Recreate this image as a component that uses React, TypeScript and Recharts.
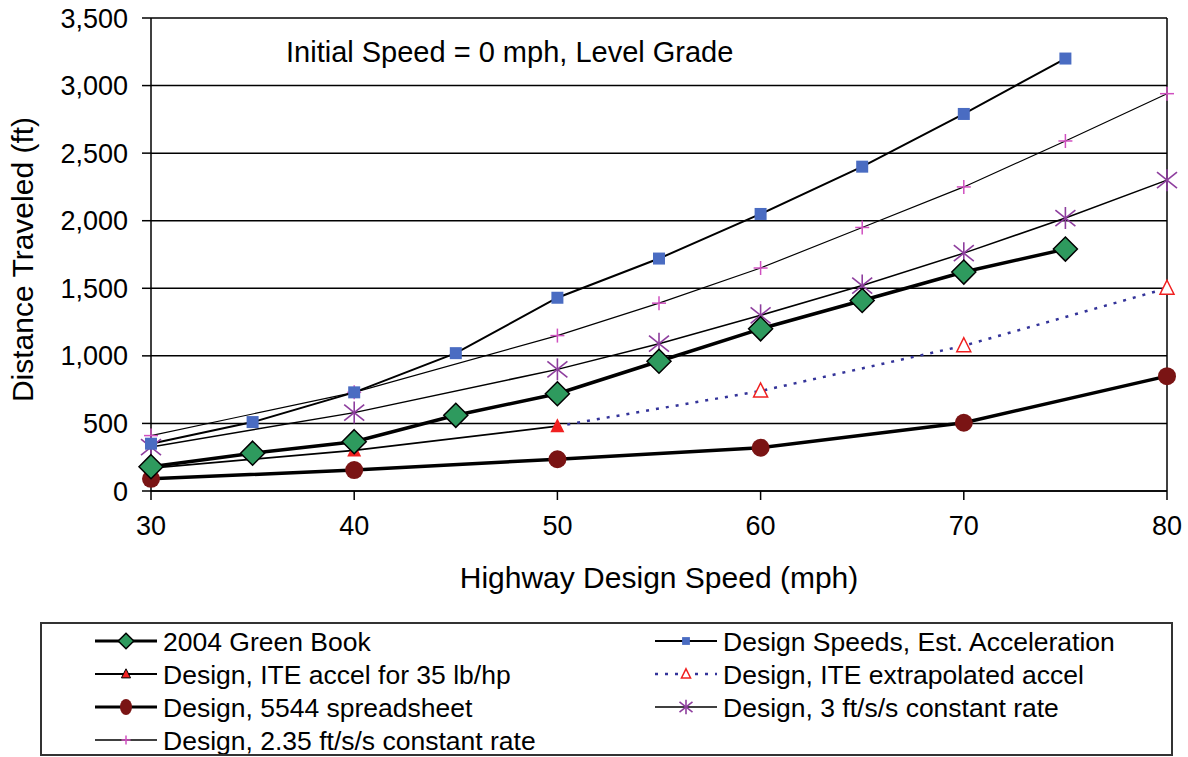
import React from "react";
import {
  LineChart,
  Line,
  XAxis,
  YAxis,
  CartesianGrid,
  ReferenceLine,
  Customized,
} from "recharts";

// Speeds (mph) on the horizontal axis
const speeds = [30, 35, 40, 45, 50, 55, 60, 65, 70, 75, 80];

// Distance traveled (ft) for each method; null where a method has no value
const greenBook = [180, 280, 365, 560, 720, 960, 1200, 1410, 1620, 1790, null];
const estAccel = [350, 510, 730, 1020, 1430, 1720, 2050, 2400, 2790, 3200, null];
const ite35 = [170, null, 300, null, 480, null, null, null, null, null, null];
const iteExtrap = [null, null, null, null, 480, null, 740, null, 1075, null, 1500];
const sheet5544 = [90, null, 155, null, 235, null, 320, null, 505, null, 850];
const rate3 = [325, null, 580, null, 900, 1090, 1300, 1520, 1760, 2020, 2300];
const rate235 = [410, null, 730, null, 1150, 1390, 1650, 1950, 2250, 2590, 2940];

const yTicks = [0, 500, 1000, 1500, 2000, 2500, 3000, 3500];
const xTicks = [30, 40, 50, 60, 70, 80];

const data = speeds.map((s, i) => ({
  speed: s,
  greenBook: greenBook[i],
  estAccel: estAccel[i],
  ite35: ite35[i],
  iteExtrap: iteExtrap[i],
  sheet5544: sheet5544[i],
  rate3: rate3[i],
  rate235: rate235[i],
}));

const FONT = "'Liberation Sans', Arial, sans-serif";

const COLORS = {
  green: "#2E9A5E",
  blue: "#4A6CC2",
  red: "#F02020",
  maroon: "#7A1414",
  purple: "#8E3E9E",
  pink: "#D050C0",
  navy: "#333399",
};

type Shape = (cx: number, cy: number, k?: number) => React.ReactNode;

const diamond: Shape = (cx, cy, k = 1) => {
  const r = 12 * k;
  return (
    <path
      d={`M${cx},${cy - r} L${cx + r},${cy} L${cx},${cy + r} L${cx - r},${cy} Z`}
      fill={COLORS.green}
      stroke="#000"
      strokeWidth={1.5}
    />
  );
};
const square: Shape = (cx, cy, k = 1) => {
  const h = 6 * k;
  return <rect x={cx - h} y={cy - h} width={2 * h} height={2 * h} fill={COLORS.blue} />;
};
const triFilled: Shape = (cx, cy, k = 1) => (
  <path
    d={`M${cx},${cy - 8 * k} L${cx + 7 * k},${cy + 6 * k} L${cx - 7 * k},${cy + 6 * k} Z`}
    fill={COLORS.red}
    stroke={k < 1 ? "#000" : "none"}
    strokeWidth={1}
  />
);
const triOpen: Shape = (cx, cy, k = 1) => (
  <path
    d={`M${cx},${cy - 8 * k} L${cx + 7 * k},${cy + 6 * k} L${cx - 7 * k},${cy + 6 * k} Z`}
    fill="#fff"
    stroke={COLORS.red}
    strokeWidth={1.5}
  />
);
const circle: Shape = (cx, cy, k = 1) =>
  k < 1 ? (
    <ellipse cx={cx} cy={cy} rx={6} ry={8} fill={COLORS.maroon} />
  ) : (
    <circle cx={cx} cy={cy} r={9} fill={COLORS.maroon} />
  );
const asterisk: Shape = (cx, cy, k = 1) => (
  <g stroke={COLORS.purple} strokeWidth={1.6}>
    <line x1={cx} y1={cy - 11 * k} x2={cx} y2={cy + 11 * k} />
    <line x1={cx - 10 * k} y1={cy - 8 * k} x2={cx + 10 * k} y2={cy + 8 * k} />
    <line x1={cx - 10 * k} y1={cy + 8 * k} x2={cx + 10 * k} y2={cy - 8 * k} />
  </g>
);
const plus: Shape = (cx, cy, k = 1) => (
  <g stroke={COLORS.pink} strokeWidth={1.5}>
    <line x1={cx} y1={cy - 7 * k} x2={cx} y2={cy + 7 * k} />
    <line x1={cx - 7 * k} y1={cy} x2={cx + 7 * k} y2={cy} />
  </g>
);

const makeDot = (shape: Shape, skip: number[] = []) => (props: any) => {
  const { cx, cy, index, payload, value } = props;
  if (cx == null || cy == null || value == null || skip.includes(payload?.speed)) {
    return <g key={`d-${index}`} />;
  }
  return <g key={`d-${index}`}>{shape(cx, cy)}</g>;
};

const legendItems: {
  label: string;
  shape: Shape;
  stroke: string;
  width: number;
  dash?: string;
}[] = [
  { label: "2004 Green Book", shape: diamond, stroke: "#000", width: 3 },
  { label: "Design Speeds, Est. Acceleration", shape: square, stroke: "#000", width: 2 },
  { label: "Design, ITE accel for 35 lb/hp", shape: triFilled, stroke: "#000", width: 2 },
  { label: "Design, ITE extrapolated accel", shape: triOpen, stroke: COLORS.navy, width: 2.5, dash: "3 7" },
  { label: "Design, 5544 spreadsheet", shape: circle, stroke: "#000", width: 3 },
  { label: "Design, 3 ft/s/s constant rate", shape: asterisk, stroke: "#000", width: 1.5 },
  { label: "Design, 2.35 ft/s/s constant rate", shape: plus, stroke: "#000", width: 1.5 },
];

const LEGEND_LEFT = 40;
const LEGEND_TOP = 622;

const LegendBox = () => (
  <div
    style={{
      position: "absolute",
      left: LEGEND_LEFT,
      top: LEGEND_TOP,
      width: 1133,
      height: 134,
      border: "2px solid #333",
      boxSizing: "border-box",
      background: "#fff",
    }}
  >
    <svg width={1129} height={130} style={{ display: "block" }}>
      {legendItems.map((it, i) => {
        const col = i % 2;
        const row = Math.floor(i / 2);
        const x0 = col === 0 ? 53 : 613;
        const y = 17 + row * 33;
        const cx = x0 + 31;
        return (
          <g key={it.label}>
            <line
              x1={x0}
              y1={y}
              x2={x0 + 62}
              y2={y}
              stroke={it.stroke}
              strokeWidth={it.width}
              strokeDasharray={it.dash}
            />
            {it.shape(cx, y, 0.65)}
            <text
              x={x0 + 68}
              y={y + 9.5}
              fontFamily={FONT}
              fontSize={26.5}
              fill="#000"
            >
              {it.label}
            </text>
          </g>
        );
      })}
    </svg>
  </div>
);

const Annotation = () => (
  <text x={286} y={62} fontFamily={FONT} fontSize={29} fill="#000">
    Initial Speed = 0 mph, Level Grade
  </text>
);

export default function App() {
  return (
    <div
      style={{
        position: "absolute",
        left: 0,
        top: 0,
        width: 1188,
        height: 757,
        background: "#fff",
        overflow: "hidden",
      }}
    >
      <LineChart
        width={1188}
        height={757}
        data={data}
        margin={{ top: 18, right: 21, left: 0, bottom: 0 }}
      >
        <CartesianGrid vertical={false} stroke="#000" strokeWidth={1.5} />
        <XAxis
          dataKey="speed"
          type="number"
          domain={[30, 80]}
          ticks={xTicks}
          height={266}
          stroke="#000"
          strokeWidth={1.5}
          tickSize={9}
          tickMargin={16}
          tick={{ fill: "#000", fontSize: 27, fontFamily: FONT }}
          label={{
            value: "Highway Design Speed (mph)",
            position: "insideTop",
            offset: 76,
            fill: "#000",
            fontSize: 30,
            fontFamily: FONT,
          }}
        />
        <YAxis
          type="number"
          domain={[0, 3500]}
          ticks={yTicks}
          width={151}
          stroke="#000"
          strokeWidth={1.5}
          tickSize={9}
          tickMargin={14}
          tickFormatter={(v: number) => v.toLocaleString("en-US")}
          tick={{ fill: "#000", fontSize: 27, fontFamily: FONT }}
          label={{
            value: "Distance Traveled (ft)",
            angle: -90,
            position: "insideLeft",
            offset: 22,
            dy: 5,
            fill: "#000",
            fontSize: 30,
            fontFamily: FONT,
            style: { textAnchor: "middle" },
          }}
        />
        <ReferenceLine x={80} stroke="#000" strokeWidth={1.5} />
        <Customized component={Annotation} />

        <Line
          dataKey="sheet5544"
          stroke="#000"
          strokeWidth={3.5}
          connectNulls
          dot={makeDot(circle)}
          isAnimationActive={false}
        />
        <Line
          dataKey="iteExtrap"
          stroke={COLORS.navy}
          strokeWidth={2.5}
          strokeDasharray="3 7"
          connectNulls
          dot={makeDot(triOpen, [50])}
          isAnimationActive={false}
        />
        <Line
          dataKey="ite35"
          stroke="#000"
          strokeWidth={1.8}
          connectNulls
          dot={makeDot(triFilled)}
          isAnimationActive={false}
        />
        <Line
          dataKey="rate235"
          stroke="#000"
          strokeWidth={1.2}
          connectNulls
          dot={makeDot(plus)}
          isAnimationActive={false}
        />
        <Line
          dataKey="rate3"
          stroke="#000"
          strokeWidth={1.5}
          connectNulls
          dot={makeDot(asterisk)}
          isAnimationActive={false}
        />
        <Line
          dataKey="estAccel"
          stroke="#000"
          strokeWidth={2}
          connectNulls
          dot={makeDot(square)}
          isAnimationActive={false}
        />
        <Line
          dataKey="greenBook"
          stroke="#000"
          strokeWidth={3.5}
          connectNulls
          dot={makeDot(diamond)}
          isAnimationActive={false}
        />
      </LineChart>
      <LegendBox />
    </div>
  );
}
